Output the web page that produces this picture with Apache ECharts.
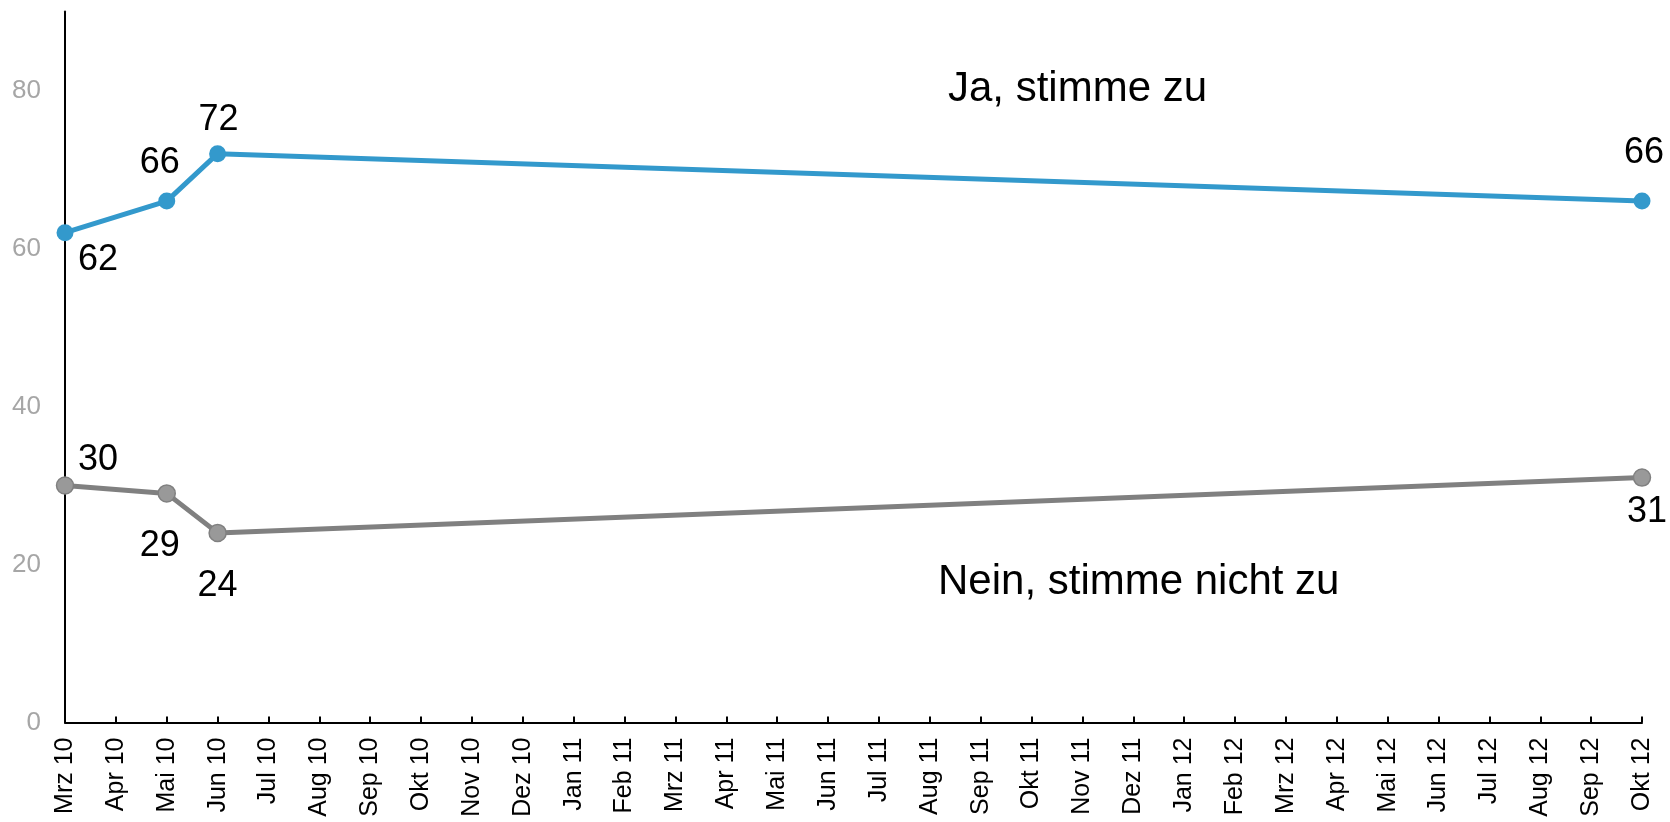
<!DOCTYPE html>
<html>
<head>
<meta charset="utf-8">
<script src="https://cdn.jsdelivr.net/npm/echarts@6/dist/echarts.min.js"></script>
<style>
html,body{margin:0;padding:0;background:#fff;}
#chart{width:1670px;height:822px;}
</style>
</head>
<body>
<div id="chart"></div>
<script>
const categories = ['Mrz 10','Apr 10','Mai 10','Jun 10','Jul 10','Aug 10','Sep 10','Okt 10','Nov 10','Dez 10',
  'Jan 11','Feb 11','Mrz 11','Apr 11','Mai 11','Jun 11','Jul 11','Aug 11','Sep 11','Okt 11','Nov 11','Dez 11',
  'Jan 12','Feb 12','Mrz 12','Apr 12','Mai 12','Jun 12','Jul 12','Aug 12','Sep 12','Okt 12'];
const jaValues = [62,null,66,72,null,null,null,null,null,null,null,null,null,null,null,null,null,null,null,null,null,null,null,null,null,null,null,null,null,null,null,66];
const neinValues = [30,null,29,24,null,null,null,null,null,null,null,null,null,null,null,null,null,null,null,null,null,null,null,null,null,null,null,null,null,null,null,31];
const yTicks = [0,20,40,60,80];

// label offsets (dx, dy) from point, by category index
const jaLabelOffsets = {0:[33,27], 2:[-7,-38], 3:[1,-34], 31:[2,-48]};
const neinLabelOffsets = {0:[33,-25], 2:[-7,53], 3:[0,53], 31:[5,34]};

function buildData(values, offsets){
  return values.map((v,i)=>{
    if(v===null) return null;
    const o = offsets[i] || [0,-30];
    return {value:v, label:{show:true, position:'inside', offset:o}};
  });
}

const FONT = 'Liberation Sans, Arial, sans-serif';
const chart = echarts.init(document.getElementById('chart'), null, {renderer:'canvas'});
chart.setOption({
  backgroundColor:'#ffffff',
  animation:false,
  grid:{left:65, right:28, top:11.5, bottom:99.5, containLabel:false},
  xAxis:{
    type:'category',
    data:categories,
    boundaryGap:false,
    axisLine:{lineStyle:{color:'#000', width:2}},
    axisTick:{show:true, inside:true, length:6, lineStyle:{color:'#000', width:2}},
    axisLabel:{rotate:90, interval:0, fontSize:25, color:'#000', fontFamily:FONT, margin:15}
  },
  yAxis:{
    type:'value',
    min:0, max:90, interval:20,
    splitLine:{show:false},
    axisLine:{show:true, lineStyle:{color:'#000', width:2}},
    axisTick:{show:false},
    axisLabel:{fontSize:26, color:'#a6a6a6', fontFamily:FONT, margin:24,
      showMaxLabel:false,
      formatter:(v)=> yTicks.includes(v) ? String(v) : ''}
  },
  series:[
    {
      name:'Ja, stimme zu', type:'line', connectNulls:true,
      data:buildData(jaValues, jaLabelOffsets),
      symbol:'circle', symbolSize:17,
      lineStyle:{color:'#3399cc', width:5},
      itemStyle:{color:'#3399cc'},
      label:{fontSize:36, color:'#000', fontFamily:FONT},
      z:3
    },
    {
      name:'Nein, stimme nicht zu', type:'line', connectNulls:true,
      data:buildData(neinValues, neinLabelOffsets),
      symbol:'circle', symbolSize:17,
      lineStyle:{color:'#808080', width:5},
      itemStyle:{color:'#999999', borderColor:'#808080', borderWidth:1.5},
      label:{fontSize:36, color:'#000', fontFamily:FONT},
      z:2
    }
  ],
  graphic:[
    {type:'text', left:948, top:68, style:{text:'Ja, stimme zu', fontSize:42, fill:'#000', fontFamily:FONT}},
    {type:'text', left:938, top:561, style:{text:'Nein, stimme nicht zu', fontSize:42, fill:'#000', fontFamily:FONT}}
  ]
});
</script>
</body>
</html>
